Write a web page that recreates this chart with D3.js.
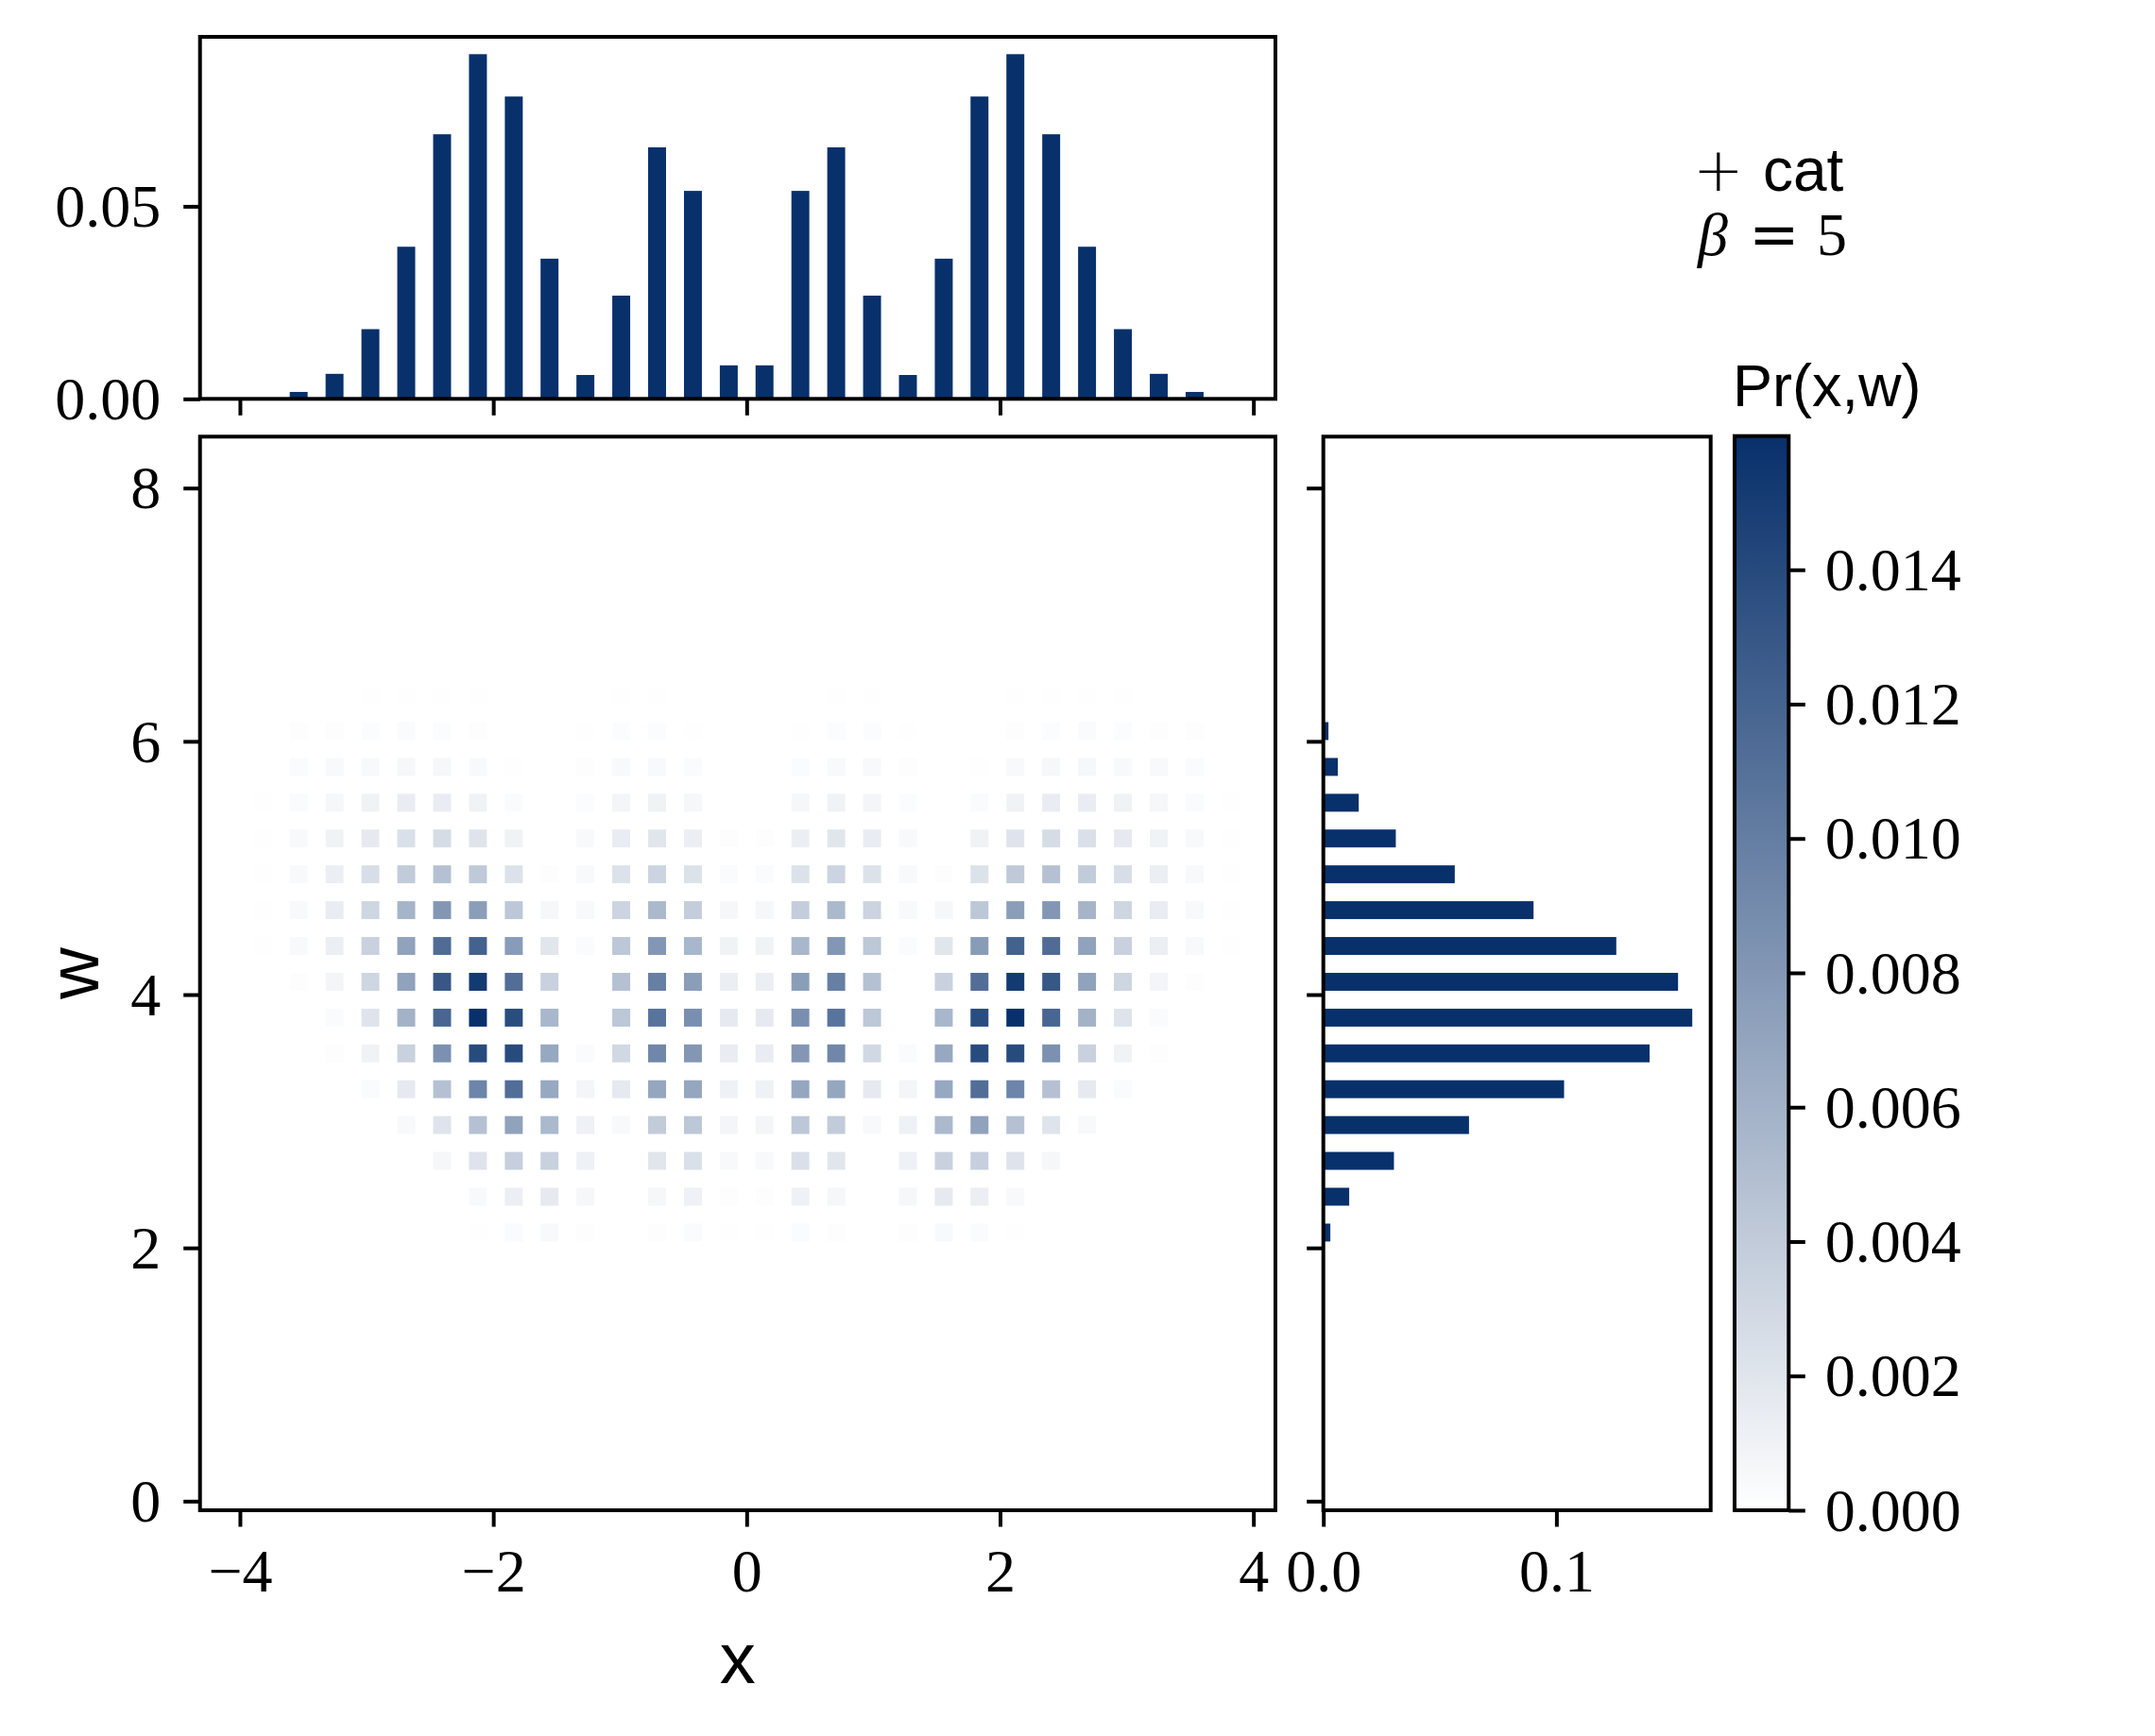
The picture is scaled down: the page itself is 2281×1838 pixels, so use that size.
<!DOCTYPE html>
<meta charset="utf-8">
<style>
body { margin: 0; background: #fff; }
.serif { font-family: "Liberation Serif", "DejaVu Serif", serif; }
.sans { font-family: "Liberation Sans", "DejaVu Sans", sans-serif; }
.sym { font-family: "DejaVu Sans", sans-serif; }
</style>
<body>
<script src="https://d3js.org/d3.v7.min.js"></script>
<script>

// bin centres (x columns and w rows)
var xCenters = [-3.818, -3.536, -3.253, -2.970, -2.687, -2.404, -2.121, -1.838, -1.556, -1.273, -0.990, -0.707, -0.424, -0.141,
                 0.141,  0.424,  0.707,  0.990,  1.273,  1.556,  1.838,  2.121,  2.404,  2.687,  2.970,  3.253,  3.536,  3.818]
var wCenters = [2.121, 2.404, 2.687, 2.970, 3.253, 3.536, 3.818, 4.101, 4.384, 4.667, 4.950, 5.233, 5.515, 5.798, 6.081, 6.364]

// marginals
var xMarginal = [0.0001, 0.0018, 0.0065, 0.0181, 0.0395, 0.0687, 0.0895, 0.0785, 0.0364, 0.0062, 0.0268, 0.0653, 0.0540, 0.0087,
                 0.0087, 0.0540, 0.0653, 0.0268, 0.0062, 0.0364, 0.0785, 0.0895, 0.0687, 0.0395, 0.0181, 0.0065, 0.0018, 0.0001]
var wMarginal = [0.0030, 0.0111, 0.0303, 0.0625, 0.1033, 0.1400, 0.1583, 0.1522, 0.1257, 0.0902, 0.0564, 0.0311, 0.0152, 0.0062, 0.0022, 0.0005]

// joint Pr(x,w), one row per wCenters entry (bottom to top), one value per xCenters entry
var prXW = [
  [0, 0, 0, 0, 0, 0, 0.00008, 0.00032, 0.00048, 0.00016, 0, 0.00016, 0.00032, 0.00005,   0.00005, 0.00032, 0.00016, 0, 0.00016, 0.00048, 0.00032, 0.00008, 0, 0, 0, 0, 0, 0],
  [0, 0, 0, 0, 0, 0, 0.00048, 0.00128, 0.0016, 0.00064, 0, 0.00064, 0.00112, 0.00016,     0.00016, 0.00112, 0.00064, 0, 0.00064, 0.0016, 0.00128, 0.00048, 0, 0, 0, 0, 0, 0],
  [0, 0, 0, 0, 0, 0.00064, 0.00208, 0.00368, 0.00352, 0.00112, 0, 0.00192, 0.0024, 0.00048, 0.00048, 0.0024, 0.00192, 0, 0.00112, 0.00352, 0.00368, 0.00208, 0.00064, 0, 0, 0, 0, 0],
  [0, 0, 0, 0, 0.00048, 0.00208, 0.0048, 0.0072, 0.00544, 0.00112, 0.00048, 0.004, 0.00432, 0.0008, 0.0008, 0.00432, 0.004, 0.00048, 0.00112, 0.00544, 0.0072, 0.0048, 0.00208, 0.00048, 0, 0, 0, 0],
  [0, 0, 0, 0.00032, 0.0016, 0.0048, 0.00944, 0.0112, 0.00672, 0.0008, 0.0016, 0.00688, 0.00688, 0.00112, 0.00112, 0.00688, 0.00688, 0.0016, 0.0008, 0.00672, 0.0112, 0.00944, 0.0048, 0.0016, 0.00032, 0, 0, 0],
  [0, 0, 0.00016, 0.00096, 0.00352, 0.00848, 0.01392, 0.01392, 0.00672, 0.00032, 0.00304, 0.00928, 0.008, 0.00144, 0.00144, 0.008, 0.00928, 0.00304, 0.00032, 0.00672, 0.01392, 0.01392, 0.00848, 0.00352, 0.00096, 0.00016, 0, 0],
  [0, 0, 0.00032, 0.00208, 0.00592, 0.01184, 0.016, 0.01376, 0.0056, 0, 0.00432, 0.01072, 0.00864, 0.0016, 0.0016, 0.00864, 0.01072, 0.00432, 0, 0.0056, 0.01376, 0.016, 0.01184, 0.00592, 0.00208, 0.00032, 0, 0],
  [0.00003, 0.00016, 0.0008, 0.0032, 0.0072, 0.01296, 0.0152, 0.0112, 0.00352, 0, 0.0048, 0.00992, 0.00752, 0.00128, 0.00128, 0.00752, 0.00992, 0.0048, 0, 0.00352, 0.0112, 0.0152, 0.01296, 0.0072, 0.0032, 0.0008, 0.00016, 0.00003],
  [0.00005, 0.00048, 0.00128, 0.00352, 0.0072, 0.01136, 0.01216, 0.00768, 0.00192, 0.00032, 0.00432, 0.008, 0.0056, 0.00096, 0.00096, 0.0056, 0.008, 0.00432, 0.00032, 0.00192, 0.00768, 0.01216, 0.01136, 0.0072, 0.00352, 0.00128, 0.00048, 0.00005],
  [0.00008, 0.00048, 0.00144, 0.0032, 0.00576, 0.008, 0.00752, 0.00432, 0.00064, 0.00048, 0.00336, 0.00544, 0.00384, 0.00064, 0.00064, 0.00384, 0.00544, 0.00336, 0.00048, 0.00064, 0.00432, 0.00752, 0.008, 0.00576, 0.0032, 0.00144, 0.00048, 0.00008],
  [0.00008, 0.00048, 0.00128, 0.00256, 0.004, 0.0048, 0.00416, 0.00224, 0.00016, 0.00048, 0.00224, 0.00336, 0.00224, 0.00032, 0.00032, 0.00224, 0.00336, 0.00224, 0.00048, 0.00016, 0.00224, 0.00416, 0.0048, 0.004, 0.00256, 0.00128, 0.00048, 0.00008],
  [0.00008, 0.00048, 0.00096, 0.0016, 0.0024, 0.00272, 0.00208, 0.00096, 0, 0.00048, 0.00144, 0.00192, 0.00128, 0.00016, 0.00016, 0.00128, 0.00192, 0.00144, 0.00048, 0, 0.00096, 0.00208, 0.00272, 0.0024, 0.0016, 0.00096, 0.00048, 0.00008],
  [0.00008, 0.00032, 0.00064, 0.00096, 0.00144, 0.00144, 0.00096, 0.00032, 0, 0.00024, 0.0008, 0.00096, 0.00064, 0, 0, 0.00064, 0.00096, 0.0008, 0.00024, 0, 0.00032, 0.00096, 0.00144, 0.00144, 0.00096, 0.00064, 0.00032, 0.00008],
  [0, 0.00032, 0.00048, 0.00048, 0.00064, 0.00064, 0.00048, 0.00008, 0, 0.00016, 0.00048, 0.00048, 0.00032, 0, 0, 0.00032, 0.00048, 0.00048, 0.00016, 0, 0.00008, 0.00048, 0.00064, 0.00064, 0.00048, 0.00048, 0.00032, 0],
  [0, 0.00016, 0.00016, 0.00024, 0.00032, 0.00024, 0.00013, 0, 0, 0.00005, 0.00024, 0.00024, 0.00008, 0, 0, 0.00008, 0.00024, 0.00024, 0.00005, 0, 0, 0.00013, 0.00024, 0.00032, 0.00024, 0.00016, 0.00016, 0],
  [0, 0, 0.00003, 0.00005, 0.00006, 0.00006, 0.00005, 0, 0, 0, 0.00005, 0.00005, 0.00003, 0, 0, 0.00003, 0.00005, 0.00005, 0, 0, 0, 0.00005, 0.00006, 0.00006, 0.00005, 0.00003, 0, 0]
]

var xTicks = [-4, -2, 0, 2, 4]
var wTicks = [0, 2, 4, 6, 8]
var topTicks = [0, 0.05]
var sideTicks = [0, 0.1]
var cbarTicks = [0, 0.002, 0.004, 0.006, 0.008, 0.010, 0.012, 0.014]

var binWidth = 0.1414
var vmax = 0.01599
var navy = "#08306b"

var width = 2281
var height = 1838

var svg = d3.select("body").append("svg")
    .attr("width", width)
    .attr("height", height)

var main = {left: 211.7, right: 1350, top: 462.3, bottom: 1599}
var topP = {left: 211.7, right: 1350, top: 39, bottom: 422.3}
var side = {left: 1400.7, right: 1810.7, top: 462.3, bottom: 1599}
var cbar = {left: 1836, right: 1893.3, top: 461.7, bottom: 1599}

var x = d3.scaleLinear().domain([-4.315, 4.174]).range([main.left, main.right])
var w = d3.scaleLinear().domain([-0.072, 8.406]).range([main.bottom, main.top])
var yTop = d3.scaleLinear().domain([0, 0.094]).range([topP.bottom, topP.top])
var xSide = d3.scaleLinear().domain([0, 0.1662]).range([side.left, side.right])
var cAxis = d3.scaleLinear().domain([0, vmax]).range([cbar.bottom, cbar.top])
var color = d3.scaleLinear().domain([0, vmax]).range(["#ffffff", navy]).clamp(true)

var tickLen = 17.5
var fontTick = 64

function styleAxis(g) {
  g.select(".domain").remove()
  g.selectAll(".tick line").attr("stroke", "#000").attr("stroke-width", 4)
  g.selectAll(".tick text")
      .attr("class", "serif")
      .attr("fill", "#000")
      .style("font-size", fontTick + "px")
  g.attr("font-family", null).attr("font-size", null)
}

var fmtMinus = function(f) { return function(d) { return f(d).replace("-", "\u2212") } }

// heatmap
var cells = []
prXW.forEach(function(row, i) {
  row.forEach(function(v, k) {
    if (v > 0) cells.push({x: xCenters[k], w: wCenters[i], v: v})
  })
})

svg.append("g").selectAll("rect")
    .data(cells)
  .enter().append("rect")
    .attr("x", function(d) { return x(d.x - binWidth / 2) })
    .attr("width", function(d) { return x(d.x + binWidth / 2) - x(d.x - binWidth / 2) })
    .attr("y", function(d) { return w(d.w + binWidth / 2) })
    .attr("height", function(d) { return w(d.w - binWidth / 2) - w(d.w + binWidth / 2) })
    .attr("fill", function(d) { return color(d.v) })

// top marginal
svg.append("g").selectAll("rect")
    .data(xMarginal)
  .enter().append("rect")
    .attr("x", function(d, i) { return x(xCenters[i] - binWidth / 2) })
    .attr("width", function(d, i) { return x(xCenters[i] + binWidth / 2) - x(xCenters[i] - binWidth / 2) })
    .attr("y", function(d) { return yTop(d) })
    .attr("height", function(d) { return yTop(0) - yTop(d) })
    .attr("fill", navy)

// side marginal
svg.append("g").selectAll("rect")
    .data(wMarginal)
  .enter().append("rect")
    .attr("x", xSide(0))
    .attr("width", function(d) { return xSide(d) - xSide(0) })
    .attr("y", function(d, i) { return w(wCenters[i] + binWidth / 2) })
    .attr("height", function(d, i) { return w(wCenters[i] - binWidth / 2) - w(wCenters[i] + binWidth / 2) })
    .attr("fill", navy)

// colorbar
var grad = svg.append("defs").append("linearGradient")
    .attr("id", "cgrad")
    .attr("x1", 0).attr("x2", 0).attr("y1", 1).attr("y2", 0)
grad.append("stop").attr("offset", "0%").attr("stop-color", "#ffffff")
grad.append("stop").attr("offset", "100%").attr("stop-color", navy)

svg.append("rect")
    .attr("x", cbar.left).attr("y", cbar.top)
    .attr("width", cbar.right - cbar.left).attr("height", cbar.bottom - cbar.top)
    .attr("fill", "url(#cgrad)")

// axes
svg.append("g")
    .attr("transform", "translate(0," + main.bottom + ")")
    .call(d3.axisBottom(x).tickValues(xTicks).tickSize(tickLen).tickPadding(23).tickFormat(fmtMinus(d3.format("d"))))
    .call(styleAxis)

svg.append("g")
    .attr("transform", "translate(" + main.left + ",0)")
    .call(d3.axisLeft(w).tickValues(wTicks).tickSize(tickLen).tickPadding(24).tickFormat(d3.format("d")))
    .call(styleAxis)
    .selectAll(".tick text").attr("dy", "0.33em")

svg.append("g")
    .attr("transform", "translate(0," + topP.bottom + ")")
    .call(d3.axisBottom(x).tickValues(xTicks).tickSize(tickLen).tickFormat(""))
    .call(styleAxis)

svg.append("g")
    .attr("transform", "translate(" + topP.left + ",0)")
    .call(d3.axisLeft(yTop).tickValues(topTicks).tickSize(tickLen).tickPadding(24).tickFormat(d3.format(".2f")))
    .call(styleAxis)
    .selectAll(".tick text").attr("dy", "0.33em")

svg.append("g")
    .attr("transform", "translate(0," + side.bottom + ")")
    .call(d3.axisBottom(xSide).tickValues(sideTicks).tickSize(tickLen).tickPadding(23).tickFormat(d3.format(".1f")))
    .call(styleAxis)

svg.append("g")
    .attr("transform", "translate(" + side.left + ",0)")
    .call(d3.axisLeft(w).tickValues(wTicks).tickSize(tickLen).tickFormat(""))
    .call(styleAxis)

svg.append("g")
    .attr("transform", "translate(" + cbar.right + ",0)")
    .call(d3.axisRight(cAxis).tickValues(cbarTicks).tickSize(tickLen).tickPadding(21).tickFormat(d3.format(".3f")))
    .call(styleAxis)
    .selectAll(".tick text").attr("dy", "0.33em")

// frames
;[main, topP, side, cbar].forEach(function(p) {
  svg.append("rect")
      .attr("x", p.left).attr("y", p.top)
      .attr("width", p.right - p.left).attr("height", p.bottom - p.top)
      .attr("fill", "none")
      .attr("stroke", "#000")
      .attr("stroke-width", 4)
})

// labels
svg.append("text")
    .attr("class", "sans")
    .attr("x", (main.left + main.right) / 2)
    .attr("y", 1782)
    .attr("text-anchor", "middle")
    .style("font-size", "76px")
    .text("x")

svg.append("text")
    .attr("class", "sans")
    .attr("transform", "translate(104," + ((main.top + main.bottom) / 2) + ") rotate(-90)")
    .attr("text-anchor", "middle")
    .style("font-size", "76px")
    .text("w")

svg.append("text")
    .attr("class", "sans")
    .attr("x", 1834)
    .attr("y", 430)
    .style("font-size", "63px")
    .text("Pr(x,w)")

var t1 = svg.append("text")
    .attr("y", 202)
    .style("font-size", "64px")
t1.append("tspan").attr("class", "sym").attr("x", 1792).style("font-weight", "200").text("+")
t1.append("tspan").attr("class", "sans").attr("x", 1866).text("cat")

var t2 = svg.append("text")
    .attr("class", "serif")
    .attr("y", 270)
    .style("font-size", "64px")
t2.append("tspan").attr("x", 1797).style("font-style", "italic").text("\u03b2")
t2.append("tspan").attr("class", "sym").attr("x", 1851).text("=")
t2.append("tspan").attr("x", 1923).text("5")

</script>
